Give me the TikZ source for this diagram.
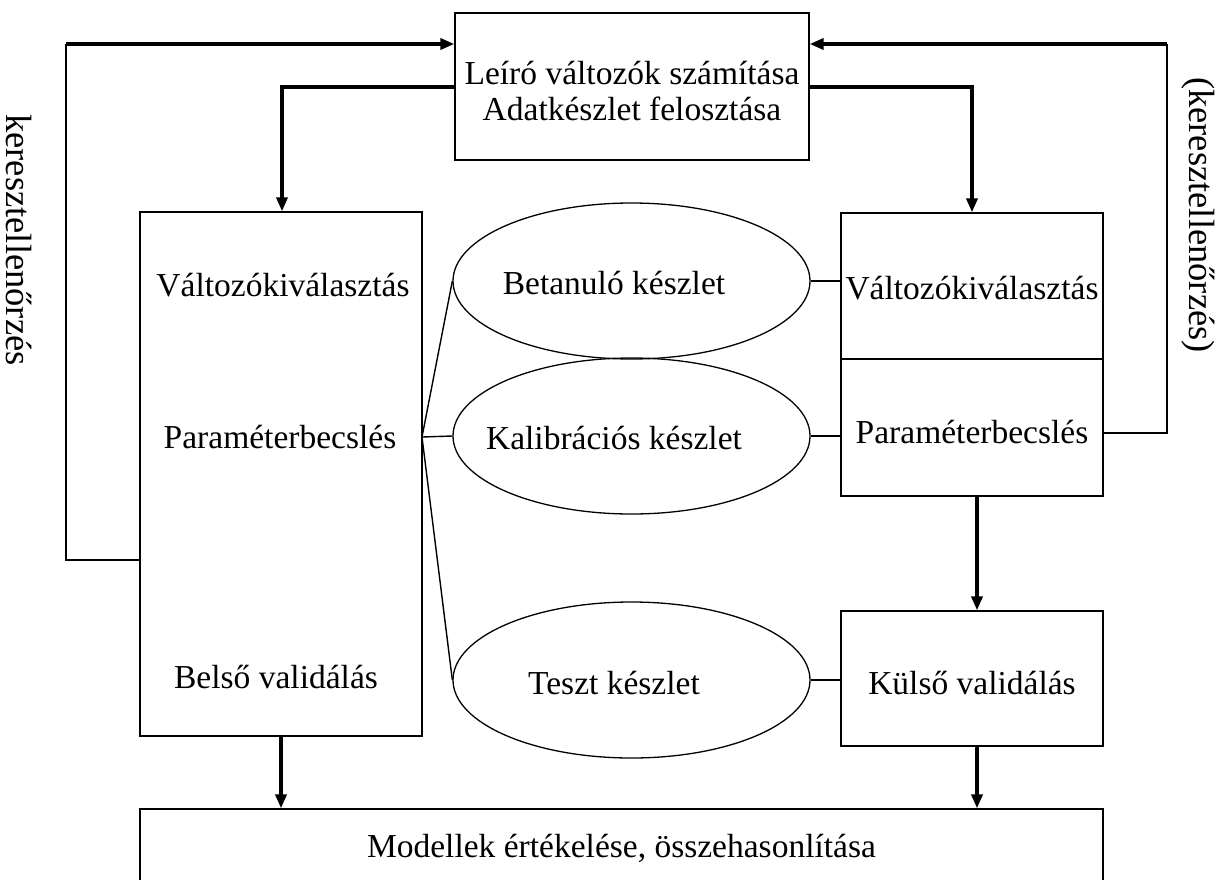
\documentclass[tikz,border=0pt]{standalone}
\usepackage{fontspec}
\setmainfont{Liberation Serif}
\usetikzlibrary{shapes.geometric,arrows.meta,calc}
\begin{document}
\begin{tikzpicture}[x=1pt,y=-1pt,
  every node/.style={font=\fontsize{33.5}{36}\selectfont},
  box/.style={draw,line width=1.3pt,rectangle,inner sep=0pt},
  oval/.style={draw,line width=1.3pt,ellipse,inner sep=0pt,minimum width=357pt,minimum height=156pt},
  txt/.style={inner sep=0pt},
  sidetxt/.style={inner sep=0pt,rotate=-90,font=\fontsize{36.5}{40}\selectfont},
  thinline/.style={line width=1.4pt},
  thickarrow/.style={line width=3.4pt,-{Triangle[length=14pt,width=11pt]}}
]
\useasboundingbox (0,0) rectangle (1224,879);
\clip (0,0) rectangle (1224,879);
\fill[white] (0,0) rectangle (1224,879);

% boxes
\node[box,minimum width=354pt,minimum height=147pt] (top) at (632,86.5) {};
\node[txt,align=center] (toptext) at (632,91) {Leíró változók számítása\\Adatkészlet felosztása};

\node[box,minimum width=282pt,minimum height=524pt] (L) at (281,474) {};
\node[txt] (LV) at (283,285) {Változókiválasztás};
\node[txt] (LP) at (280,437) {Paraméterbecslés};
\node[txt] (LB) at (276,677) {Belső validálás};

\node[box,minimum width=262pt,minimum height=146pt] (R1) at (972,286) {};
\node[txt] (R1t) at (972,288) {Változókiválasztás};
\node[box,minimum width=262pt,minimum height=137pt] (R2) at (972,427.5) {};
\node[txt] (R2t) at (972,432) {Paraméterbecslés};
\node[box,minimum width=262pt,minimum height=135pt] (K) at (972,678.5) {};
\node[txt] (Kt) at (972,683) {Külső validálás};

\node[box,minimum width=963pt,minimum height=82pt] (bot) at (621.5,850) {};
\node[txt] (bott) at (621.5,848) {Modellek értékelése, összehasonlítása};

% ellipses
\node[oval] (Bet) at (631.5,281) {};
\node[txt] (Bett) at (614,283) {Betanuló készlet};
\node[oval] (Kal) at (631.5,436) {};
\node[txt] (Kalt) at (614,438) {Kalibrációs készlet};
\node[oval] (Tes) at (631.5,680) {};
\node[txt] (Test) at (614,683) {Teszt készlet};

% side labels
\node[sidetxt] (kl) at (19,240) {keresztellenőrzés};
\node[sidetxt] (kr) at (1198,215) {(keresztellenőrzés)};

% coordinates
\coordinate (lcb) at (66,560);
\coordinate (lct) at (66,44);
\coordinate (ld) at (282,87);
\coordinate (rd) at (972,87);
\coordinate (rcb) at (1167,433);
\coordinate (rct) at (1167,44);
\coordinate (fan) at (422,437);
\coordinate (dx) at (977,0);

% feedback left
\draw[thinline] (lcb -| L.west) -- (lcb) -- (lct);
\draw[thickarrow] (lct) -- (lct -| top.west);
% feedback right
\draw[thinline] (rcb -| R2.east) -- (rcb) -- (rct);
\draw[thickarrow] (rct) -- (rct -| top.east);
% top to boxes
\draw[thickarrow] (ld -| top.west) -- (ld) -- (ld |- L.north);
\draw[thickarrow] (rd -| top.east) -- (rd) -- (rd |- R1.north);
% fan
\draw[thinline] (fan) -- (Bet.west);
\draw[thinline] (fan) -- (Kal.west);
\draw[thinline] (fan) -- (Tes.west);
% ellipse to boxes
\draw[thinline] (Bet.east) -- (Bet.east -| R1.west);
\draw[thinline] (Kal.east) -- (Kal.east -| R2.west);
\draw[thinline] (Tes.east) -- (Tes.east -| K.west);
% down arrows
\draw[thickarrow] (R2.south -| dx) -- (K.north -| dx);
\draw[thickarrow] (K.south -| dx) -- (bot.north -| dx);
\draw[thickarrow] (L.south) -- (L.south |- bot.north);
\end{tikzpicture}
\end{document}
